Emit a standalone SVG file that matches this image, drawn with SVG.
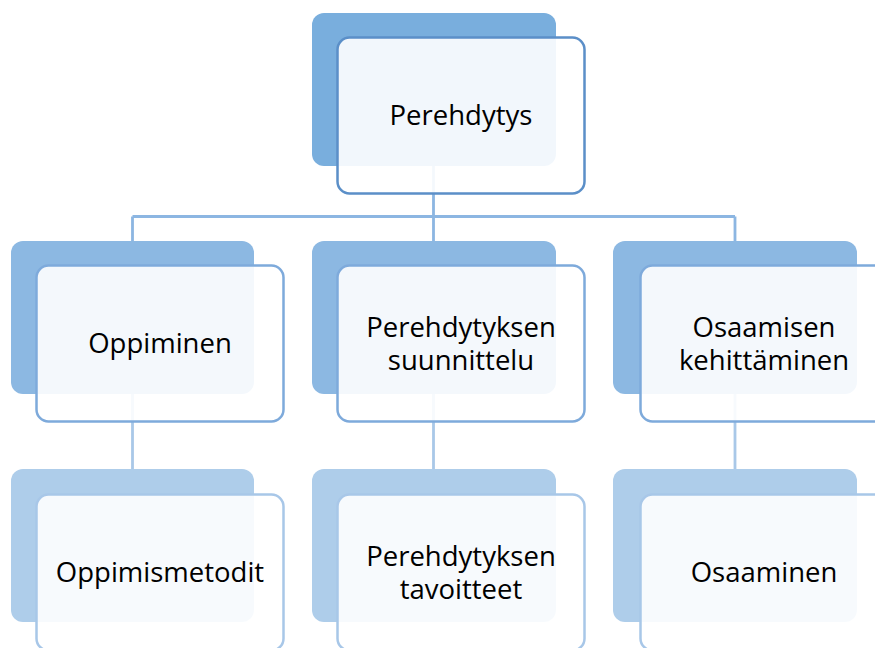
<svg xmlns="http://www.w3.org/2000/svg" width="875" height="648" viewBox="0 0 875 648">
<style>
.back{stroke:none}
.b1{fill:#79aedd}
.b2{fill:#8cb8e2}
.b3{fill:#aecdea}
.front{fill:#ffffff;fill-opacity:0.9;stroke-width:2.5}
.f1{stroke:#5b8fc8}
.f2{stroke:#7eaadb}
.f3{stroke:#a8c7e8}
.c1{stroke:#8cb6e2;stroke-width:2.8;fill:none}
.c2{stroke:#a9c8e8;stroke-width:2.8;fill:none}
text{font-family:"Open Sans","Noto Sans",sans-serif;font-size:27.5px;fill:#000;text-anchor:middle}
</style>
<rect width="875" height="648" fill="#ffffff"/>
<g id="connectors">
<path class="c1" d="M433.5 166V216.5M132.5 216.5H735M132.5 216.5V241M433.5 216.5V241M735 216.5V241"/>
<path class="c2" d="M132.5 394V469M433.5 394V469M735 394V469"/>
</g>
<g id="n-perehdytys">
<rect class="back b1" x="312" y="13" width="244" height="153" rx="12"/>
<rect class="front f1" x="337.5" y="37.5" width="247" height="156" rx="12"/>
<text x="461" y="125">Perehdytys</text>
</g>
<g id="n-oppiminen">
<rect class="back b2" x="11" y="241" width="243" height="153" rx="12"/>
<rect class="front f2" x="36.5" y="265.5" width="247" height="156" rx="12"/>
<text x="160" y="353">Oppiminen</text>
</g>
<g id="n-suunnittelu">
<rect class="back b2" x="312" y="241" width="244" height="153" rx="12"/>
<rect class="front f2" x="337.5" y="265.5" width="247" height="156" rx="12"/>
<text x="461" y="337">Perehdytyksen</text>
<text x="461" y="370">suunnittelu</text>
</g>
<g id="n-kehittaminen">
<rect class="back b2" x="613" y="241" width="244" height="153" rx="12"/>
<rect class="front f2" x="640.5" y="265.5" width="247" height="156" rx="12"/>
<text x="764" y="337">Osaamisen</text>
<text x="764" y="370">kehittäminen</text>
</g>
<g id="n-oppimismetodit">
<rect class="back b3" x="11" y="469" width="243" height="153" rx="12"/>
<rect class="front f3" x="36.5" y="494.5" width="247" height="156" rx="12"/>
<text x="160" y="582">Oppimismetodit</text>
</g>
<g id="n-tavoitteet">
<rect class="back b3" x="312" y="469" width="244" height="153" rx="12"/>
<rect class="front f3" x="337.5" y="494.5" width="247" height="156" rx="12"/>
<text x="461" y="566">Perehdytyksen</text>
<text x="461" y="599">tavoitteet</text>
</g>
<g id="n-osaaminen">
<rect class="back b3" x="613" y="469" width="244" height="153" rx="12"/>
<rect class="front f3" x="640.5" y="494.5" width="247" height="156" rx="12"/>
<text x="764" y="582">Osaaminen</text>
</g>
</svg>
